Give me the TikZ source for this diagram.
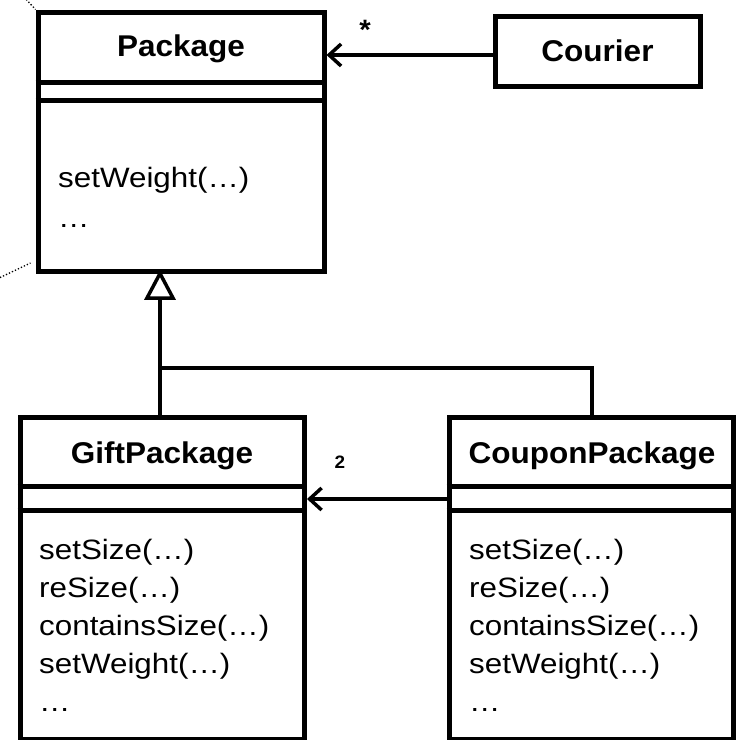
\documentclass[tikz,border=0pt]{standalone}
\usepackage{fontspec}
\setmainfont{Liberation Sans}
\newfontfamily\methfont{Liberation Sans}[FakeStretch=1.12]
\newfontfamily\namefont{Liberation Sans}[FakeStretch=1.05]
\usetikzlibrary{arrows.meta}
\begin{document}
\begin{tikzpicture}[x=1pt,y=-1pt,
  classbox/.style={draw, line width=5pt, inner sep=0pt, outer sep=2.5pt, rectangle},
  sepline/.style={line width=5pt},
  cname/.style={font=\namefont\bfseries\fontsize{30}{36}\selectfont, inner sep=0pt, anchor=base},
  meth/.style={font=\methfont\fontsize{28}{38}\selectfont, inner sep=0pt, anchor=base west},
  assoc/.style={line width=3.5pt, -{Straight Barb[length=12pt,width=22pt,line width=3.5pt]}},
  gen/.style={line width=3.5pt},
  mult/.style={font=\namefont\bfseries\fontsize{18}{20}\selectfont, inner sep=0pt, anchor=base},
  star/.style={font=\namefont\bfseries\fontsize{28}{30}\selectfont, inner sep=0pt, anchor=base},
  notelink/.style={dotted, line width=1.3pt}
]
\useasboundingbox (0,0) rectangle (744,739);
\clip (0,0) rectangle (744,739);

% class boxes
\node[classbox, minimum width=286pt, minimum height=259pt] (pkg) at (181,141.5) {};
\node[classbox, minimum width=205pt, minimum height=70pt,
      font=\namefont\bfseries\fontsize{30}{36}\selectfont] (cour) at (597.5,51) {Courier};
\node[classbox, minimum width=284.5pt, minimum height=322pt] (gift) at (162.25,578) {};
\node[classbox, minimum width=284pt, minimum height=322pt] (coupon) at (591,578) {};

% compartments
\draw[sepline] (pkg.west |- 0,82) -- (pkg.east |- 0,82);
\draw[sepline] (pkg.west |- 0,100.5) -- (pkg.east |- 0,100.5);
\draw[sepline] (gift.west |- 0,486) -- (gift.east |- 0,486);
\draw[sepline] (gift.west |- 0,510) -- (gift.east |- 0,510);
\draw[sepline] (coupon.west |- 0,486) -- (coupon.east |- 0,486);
\draw[sepline] (coupon.west |- 0,510) -- (coupon.east |- 0,510);

% names
\node[cname] (pkgname) at (181,56) {Package};
\node[cname] (giftname) at (162,463) {GiftPackage};
\node[cname] (couponname) at (592,463) {CouponPackage};

% methods
\node[meth] (pm1) at (58,187) {setWeight(…)};
\node[meth] (pm2) at (58,227) {…};

\node[meth] (gm1) at (39,559) {setSize(…)};
\node[meth] (gm2) at (39,597) {reSize(…)};
\node[meth] (gm3) at (39,635) {containsSize(…)};
\node[meth] (gm4) at (39,673) {setWeight(…)};
\node[meth] (gm5) at (39,711) {…};

\node[meth] (cm1) at (469,559) {setSize(…)};
\node[meth] (cm2) at (469,597) {reSize(…)};
\node[meth] (cm3) at (469,635) {containsSize(…)};
\node[meth] (cm4) at (469,673) {setWeight(…)};
\node[meth] (cm5) at (469,711) {…};

% associations
\draw[assoc] ([yshift=-4pt]cour.west) -- ([yshift=-4pt]cour.west -| pkg.east);
\node[star] (starlbl) at (365,39) {*};
\draw[assoc] (coupon.west |- 0,499) -- (gift.east |- 0,499);
\node[mult] (twolbl) at (340,468) {2};

% generalization
\coordinate (junc) at (160,368);
\draw[gen] (gift.north -| junc) -- (junc) -- (592,368) -- (coupon.north -| 592,0);
\draw[gen] (junc) -- (160,298);
\draw[gen, fill=white, line join=miter] (147,298) -- (173,298) -- (pkg.south -| junc) -- cycle;

% note links (dotted)
\coordinate (n1) at (24,-3);
\coordinate (n2) at (-3,279);
\draw[notelink] (n1) -- (pkg.north west);
\draw[notelink] (n2) -- ([xshift=-5pt]pkg.west |- 0,263);
\end{tikzpicture}
\end{document}
